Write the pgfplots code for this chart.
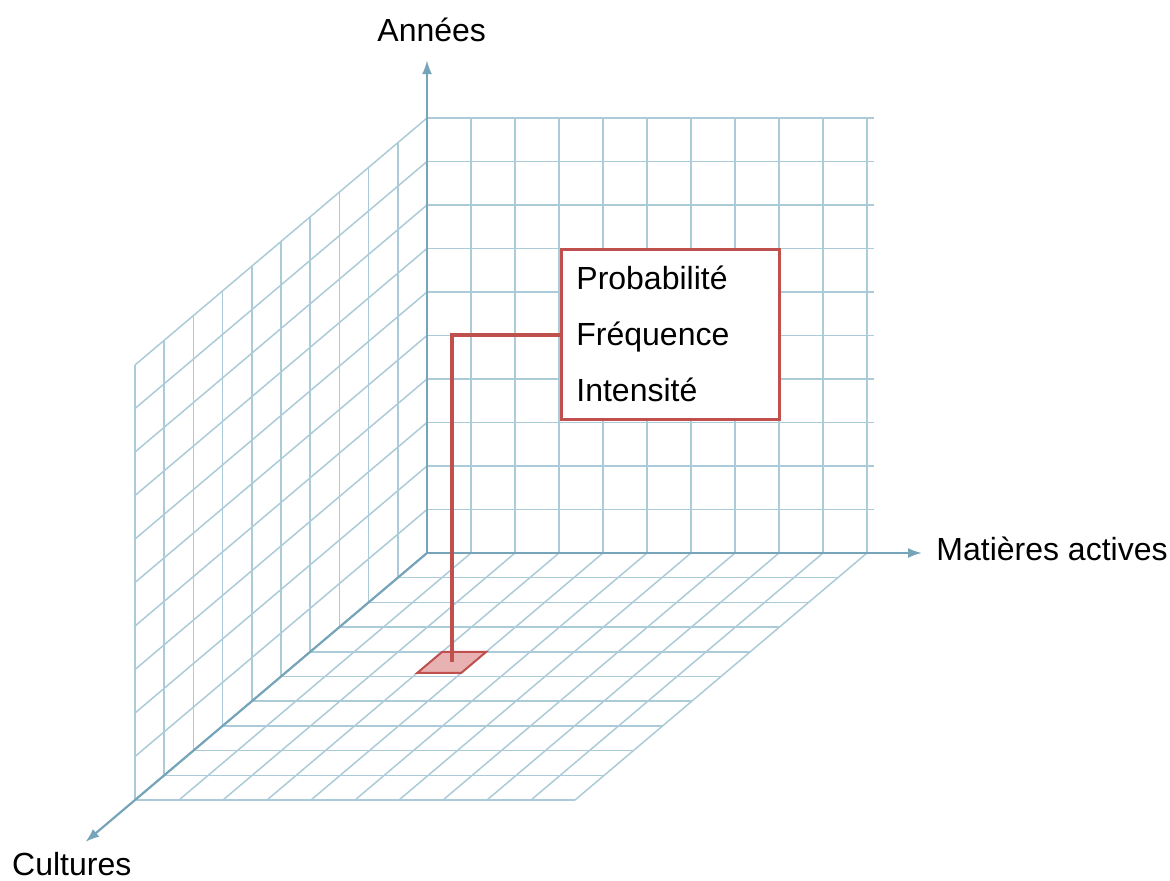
\documentclass[border=0pt]{standalone}
\usepackage{pgfplots}
\pgfplotsset{compat=1.18}
\usepackage{fontspec}
\setmainfont{Liberation Sans}
\usetikzlibrary{arrows.meta}
\definecolor{gridc}{RGB}{172,203,216}
\definecolor{axisc}{RGB}{118,164,184}
\definecolor{redc}{RGB}{192,80,77}
\definecolor{redfill}{RGB}{232,178,178}
\pgfplotsset{gl/.style={color=gridc, line width=0.75pt}}
\begin{document}
\begin{tikzpicture}[font=\fontsize{16}{19}\selectfont]
\begin{axis}[
  x={(22pt,0pt)}, y={(-14.6pt,-12.35pt)}, z={(0pt,21.75pt)},
  xmin=0, xmax=11.3, ymin=0, ymax=11.7, zmin=0, zmax=11.4,
  hide axis, clip=false,
]
% back wall (Matieres actives x Annees)
\pgfplotsinvokeforeach{0,...,10}{
  \addplot3[gl] coordinates {(#1,0,0) (#1,0,10)};
  \addplot3[gl] coordinates {(0,0,#1) (10.15,0,#1)};
}
% left wall (Cultures x Annees)
\pgfplotsinvokeforeach{0,...,10}{
  \addplot3[gl] coordinates {(0,#1,0) (0,#1,10)};
  \addplot3[gl] coordinates {(0,0,#1) (0,10,#1)};
}
% floor (Matieres actives x Cultures)
\pgfplotsinvokeforeach{0,...,10}{
  \addplot3[gl] coordinates {(#1,0,0) (#1,10,0)};
  \addplot3[gl] coordinates {(0,#1,0) (10,#1,0)};
}
% axes
\addplot3[axisc, line width=1.1pt, -{Latex[length=7pt,width=5pt]}] coordinates {(0,0,0) (0,0,11.33)};
\addplot3[axisc, line width=1.1pt, -{Latex[length=7pt,width=5pt]}] coordinates {(0,0,0) (11.25,0,0)};
\addplot3[axisc, line width=1.1pt, -{Latex[length=7pt,width=5pt]}] coordinates {(0,0,0) (0,11.7,0)};
% highlighted cell
\addplot3[fill=redfill, draw=redc, line width=1pt] coordinates {(3,4,0) (4,4,0) (4,4.85,0) (3,4.85,0)} -- cycle;
% leader line
\addplot3[redc, line width=1.6pt] coordinates {(3.5,4.42,0) (3.5,4.42,7.52) (5.95,4.42,7.52)};
\coordinate (O) at (axis cs:0,0,0);
\end{axis}
% callout box
\node[draw=redc, line width=1.5pt, fill=white, inner sep=0pt, minimum width=109pt, minimum height=85pt, anchor=north west] at ([shift={(66.5pt,152.5pt)}]O) {};
\node[anchor=base west, inner sep=0pt] at ([shift={(74.5pt,132pt)}]O) {Probabilité};
\node[anchor=base west, inner sep=0pt] at ([shift={(74.5pt,104pt)}]O) {Fréquence};
\node[anchor=base west, inner sep=0pt] at ([shift={(74.5pt,76pt)}]O) {Intensité};
% axis labels
\node[anchor=base west, inner sep=0pt] at ([shift={(-25pt,255.6pt)}]O) {Années};
\node[anchor=base west, inner sep=0pt] at ([shift={(254.5pt,-3.5pt)}]O) {Matières actives};
\node[anchor=base west, inner sep=0pt] at ([shift={(-207.6pt,-161pt)}]O) {Cultures};
% page frame
\path ([shift={(-213.5pt,-163.5pt)}]O) rectangle ([shift={(371.5pt,276.5pt)}]O);
\end{tikzpicture}
\end{document}
